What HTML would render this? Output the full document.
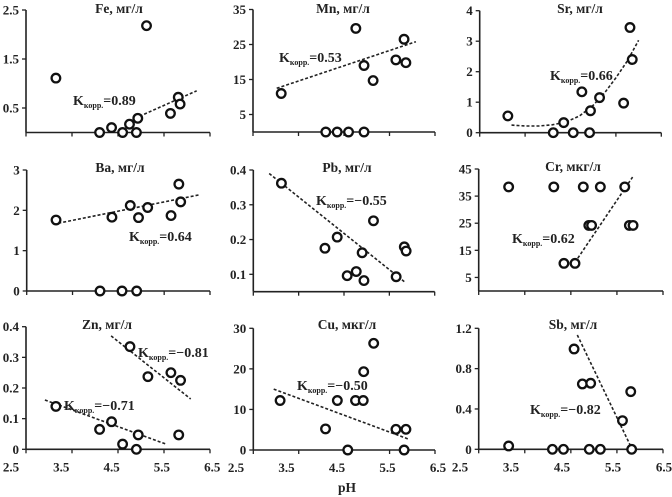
<!DOCTYPE html>
<html><head><meta charset="utf-8">
<style>
html,body{margin:0;padding:0;background:#fff;}
svg{display:block;font-family:"Liberation Serif",serif;}
.tl{font-size:13px;font-weight:bold;fill:#222;}
.tt{font-size:13.5px;font-weight:bold;fill:#222;}
.k{font-size:14px;font-weight:bold;fill:#222;}
</style></head>
<body>
<svg id="chart" width="672" height="497" viewBox="0 0 672 497" xmlns="http://www.w3.org/2000/svg"></svg>
<script>
// ---- data ----
const xTickLabels = ["2.5","3.5","4.5","5.5","6.5"];
const fePH = [3.15,4.1,4.36,4.6,4.75,4.9,4.93,5.12,5.64,5.81,5.85];
const feVal = [1.11,0,0.1,0,0.17,0,0.29,2.18,0.39,0.72,0.58];
const feTrendPH = [4.87,6.21];
const feTrendVal = [0.29,0.85];
const feTicks = [0.5,1.5,2.5];
const feTickLabels = ["0.5","1.5","2.5"];

const mnPH = [3.12,4.76,4.94,5.14,5.64,5.86,5.82,4.1,4.35,4.6,4.94];
const mnVal = [11,29.6,19,14.7,20.6,19.8,26.5,0,0,0,0];
const mnTrendPH = [3.02,6.08];
const mnTrendVal = [12.5,25.8];
const mnTicks = [5,15,25,35];
const mnTickLabels = ["5","15","25","35"];

const srPH = [3.12,4.12,4.35,4.56,4.75,4.92,4.94,5.14,5.67,5.81,5.86];
const srVal = [0.55,0,0.33,0,1.34,0,0.72,1.15,0.97,3.45,2.4];
const srTrendPH = [3.2,3.5,3.8,4.1,4.4,4.7,5.0,5.25,5.5,5.75,6.0];
const srTrendVal = [0.25,0.22,0.22,0.26,0.35,0.55,0.9,1.3,1.8,2.35,3.03];
const srTicks = [0,1,2,3,4];
const srTickLabels = ["0","1","2","3","4"];

const baPH = [3.14,4.1,4.36,4.58,4.76,4.9,4.94,5.14,5.65,5.82,5.86];
const baVal = [1.76,0,1.83,0,2.12,0,1.82,2.07,1.87,2.65,2.21];
const baTrendPH = [3.19,6.25];
const baTrendVal = [1.68,2.38];
const baTicks = [0,1,2,3];
const baTickLabels = ["0","1","2","3"];

const pbPH = [3.12,4.08,4.35,4.57,4.77,4.9,4.94,5.15,5.65,5.83,5.87];
const pbVal = [0.362,0.175,0.207,0.096,0.108,0.162,0.082,0.254,0.093,0.179,0.167];
const pbTrendPH = [2.85,5.83];
const pbTrendVal = [0.39,0.079];
const pbTicks = [0.1,0.2,0.3,0.4];
const pbTickLabels = ["0.1","0.2","0.3","0.4"];

const crPH = [3.15,4.13,4.77,5.14,5.67,4.35,4.59,4.89,4.95,5.77,5.85];
const crVal = [38.4,38.4,38.4,38.4,38.4,10.2,10.2,24.2,24.2,24.2,24.2];
const crTrendPH = [4.59,5.84];
const crTrendVal = [10.6,42];
const crTicks = [5,15,25,35,45];
const crTickLabels = ["5","15","25","35","45"];

const znPH = [3.15,4.1,4.36,4.6,4.9,4.94,4.76,5.15,5.65,5.86,5.82];
const znVal = [0.14,0.065,0.09,0.017,0,0.047,0.335,0.237,0.25,0.225,0.047];
const znTrendPH = [2.91,5.56];
const znTrendVal = [0.161,0.016];
const znTrend2PH = [4.35,6.08];
const znTrend2Val = [0.37,0.164];
const znTicks = [0,0.1,0.2,0.3,0.4];
const znTickLabels = ["0","0.1","0.2","0.3","0.4"];

const cuPH = [3.09,4.09,4.35,4.58,4.75,4.92,4.93,5.15,5.64,5.86,5.82];
const cuVal = [12.2,5.2,12.2,0,12.2,12.2,19.3,26.3,5.1,5.1,0];
const cuTrendPH = [2.95,5.94];
const cuTrendVal = [15,2.6];
const cuTicks = [0,10,20,30];
const cuTickLabels = ["0","10","20","30"];

const sbPH = [3.15,4.1,4.34,4.57,4.75,4.93,4.9,5.14,5.62,5.8,5.82];
const sbVal = [0.033,0,0,0.995,0.648,0.655,0,0,0.284,0.572,0];
const sbTrendPH = [4.64,5.82];
const sbTrendVal = [1.134,0.01];
const sbTicks = [0,0.4,0.8,1.2];
const sbTickLabels = ["0","0.4","0.8","1.2"];

// ---- drawing ----
const NS = "http://www.w3.org/2000/svg";
const svg = document.getElementById("chart");
function mk(tag, attrs, parent){
  const e = document.createElementNS(NS, tag);
  for (const k in attrs) e.setAttribute(k, attrs[k]);
  (parent||svg).appendChild(e);
  return e;
}
function panel(cfg){
  const g = mk("g", {});
  
  
  const sx = p => cfg.x1 + (p - 2.5) / 4 * (cfg.x2 - cfg.x1);
  const sy = v => cfg.yb + (v - cfg.ymin) / (cfg.ymax - cfg.ymin) * (cfg.yt - cfg.yb);
  const ya = mk("line", {x1:cfg.x1, y1:cfg.yt, x2:cfg.x1, y2:cfg.yb, stroke:"#222","stroke-width":1.6}, g);
  
  
  const xa = mk("line", {x1:cfg.x1, y1:cfg.yb, x2:cfg.x2, y2:cfg.yb, stroke:"#222","stroke-width":1.6}, g);
  
  
  for (let i = 0; i < 5; i++){
    const x = sx(2.5 + i);
    mk("line", {x1:x, y1:cfg.yb, x2:x, y2:cfg.yb+4, stroke:"#222","stroke-width":1.3}, g);
    if (cfg.xlab){
      const t = mk("text", {x:cfg.xlab[0] + i*cfg.xlab[1], y:cfg.yb+22, "text-anchor":"middle", class:"tl"}, g);
      
      
      t.textContent = xTickLabels[i];
    }
  }
  cfg.ticks.forEach((v, i) => {
    const y = sy(v);
    mk("line", {x1:cfg.x1-4, y1:y, x2:cfg.x1, y2:y, stroke:"#222","stroke-width":1.3}, g);
    const t = mk("text", {x:cfg.x1-7, y:y+4.5, "text-anchor":"end", class:"tl"}, g);
    
    
    t.textContent = cfg.tickLabels[i];
  });
  const tt = mk("text", {x:cfg.title[0], y:cfg.title[1], "text-anchor":"middle", class:"tt"}, g);
  
  
  tt.textContent = cfg.titleText;
  cfg.trends.forEach(tr => {
    const pts = tr[0].map((p, i) => sx(p).toFixed(1) + "," + sy(tr[1][i]).toFixed(1)).join(" ");
    const pl = mk("polyline", {points:pts, fill:"none", stroke:"#222","stroke-width":1.6,"stroke-dasharray":"3,2"}, g);
    
    
  });
  cfg.ph.forEach((p, i) => {
    const c = mk("circle", {cx:sx(p), cy:sy(cfg.val[i]), r:4.3, fill:"#fff", stroke:"#111","stroke-width":2.3}, g);
    
    
  });
  cfg.k.forEach(kk => {
    const t = mk("text", {x:kk[0], y:kk[1], class:"k"}, g);
    
    
    const a = mk("tspan", {}, t); a.textContent = "K";
    const b = mk("tspan", {dy:3, "font-size":"8px"}, t); b.textContent = "корр.";
    const c = mk("tspan", {dy:-3}, t); c.textContent = kk[2];
  });
}
panel({name:"fe", titleText:"Fe, мг/л", title:[119,13], x1:26, x2:210, yb:132.5, yt:10, ymin:0, ymax:2.5,
  ticks:feTicks, tickLabels:feTickLabels, ph:fePH, val:feVal, trends:[[feTrendPH,feTrendVal]], k:[[73,105,"=0.89"]]});
panel({name:"mn", titleText:"Mn, мг/л", title:[343,13], x1:253, x2:435, yb:132, yt:9.5, ymin:0, ymax:35,
  ticks:mnTicks, tickLabels:mnTickLabels, ph:mnPH, val:mnVal, trends:[[mnTrendPH,mnTrendVal]], k:[[279,62,"=0.53"]]});
panel({name:"sr", titleText:"Sr, мг/л", title:[580,13], x1:479.7, x2:661.3, yb:132.7, yt:10.7, ymin:0, ymax:4,
  ticks:srTicks, tickLabels:srTickLabels, ph:srPH, val:srVal, trends:[[srTrendPH,srTrendVal]], k:[[550,80,"=0.66"]]});
panel({name:"ba", titleText:"Ba, мг/л", title:[120,172], x1:26.7, x2:210, yb:291, yt:170, ymin:0, ymax:3,
  ticks:baTicks, tickLabels:baTickLabels, ph:baPH, val:baVal, trends:[[baTrendPH,baTrendVal]], k:[[129,241,"=0.64"]]});
panel({name:"pb", titleText:"Pb, мг/л", title:[347,172], x1:253.3, x2:434.7, yb:291.7, yt:170, ymin:0.05, ymax:0.4,
  ticks:pbTicks, tickLabels:pbTickLabels, ph:pbPH, val:pbVal, trends:[[pbTrendPH,pbTrendVal]], k:[[316,205,"=−0.55"]]});
panel({name:"cr", titleText:"Cr, мкг/л", title:[573,171], x1:478.7, x2:663, yb:291, yt:169, ymin:0, ymax:45,
  ticks:crTicks, tickLabels:crTickLabels, ph:crPH, val:crVal, trends:[[crTrendPH,crTrendVal]], k:[[512,243,"=0.62"]]});
panel({name:"zn", titleText:"Zn, мг/л", title:[107,329], x1:26, x2:210, yb:449.3, yt:326.7, ymin:0, ymax:0.4,
  ticks:znTicks, tickLabels:znTickLabels, ph:znPH, val:znVal, xlab:[11,50.3],
  trends:[[znTrendPH,znTrendVal],[znTrend2PH,znTrend2Val]], k:[[138,357,"=−0.81"],[64,410,"=−0.71"]]});
panel({name:"cu", titleText:"Cu, мкг/л", title:[347,329], x1:253.3, x2:435, yb:450, yt:328.3, ymin:0, ymax:30,
  ticks:cuTicks, tickLabels:cuTickLabels, ph:cuPH, val:cuVal, xlab:[236,50.5],
  trends:[[cuTrendPH,cuTrendVal]], k:[[297,390,"=−0.50"]]});
panel({name:"sb", titleText:"Sb, мг/л", title:[573,329], x1:478.7, x2:663, yb:449.3, yt:328.3, ymin:0, ymax:1.2,
  ticks:sbTicks, tickLabels:sbTickLabels, ph:sbPH, val:sbVal, xlab:[460,51],
  trends:[[sbTrendPH,sbTrendVal]], k:[[530,414,"=−0.82"]]});
const ph = mk("text", {x:347, y:492, "text-anchor":"middle", class:"tt"});


ph.textContent = "pH";
</script>
</body></html>
